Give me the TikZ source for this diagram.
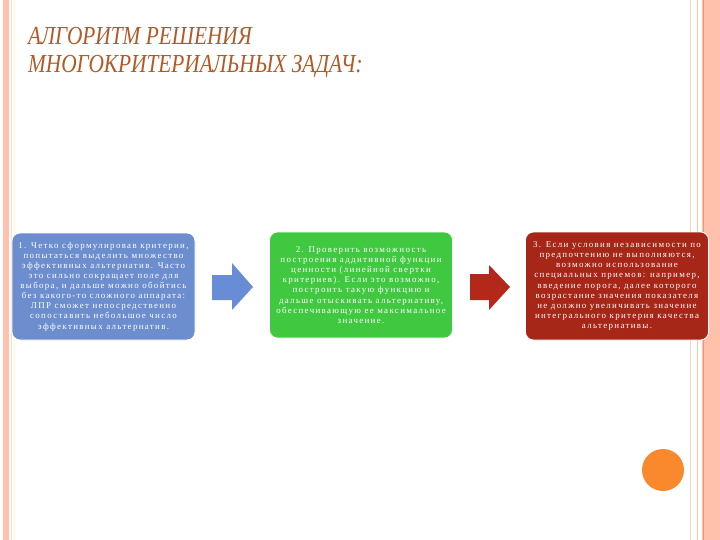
\documentclass[tikz,border=0pt]{standalone}
\usepackage{fontspec}
\setmainfont{Liberation Serif}
\newfontfamily\boxfont[LetterSpace=15]{Liberation Serif}
\usepackage{tikz}
\usetikzlibrary{positioning}

\definecolor{stripe}{RGB}{255,192,172}
\definecolor{stripedark}{RGB}{238,150,120}
\definecolor{titlecol}{RGB}{180,88,36}
\definecolor{boxblue}{RGB}{108,142,207}
\definecolor{boxgreen}{RGB}{64,200,64}
\definecolor{boxred}{RGB}{166,38,24}
\definecolor{arrblue}{RGB}{104,140,214}
\definecolor{arrred}{RGB}{180,40,25}
\definecolor{dotorange}{RGB}{250,136,45}

\tikzset{
  stepbox/.style={rounded corners=8pt, draw=white, line width=0.8pt,
    minimum width=183pt, minimum height=107pt, inner sep=2pt,
    align=center, text=white, font=\boxfont\fontsize{8.9}{10.1}\selectfont},
  titletext/.style={font=\itshape\fontsize{26}{28}\selectfont, text=titlecol,
    inner sep=0pt, xscale=0.82}
}

\begin{document}
\begin{tikzpicture}[x=1pt, y=-1pt]
  \useasboundingbox (0,0) rectangle (720,540);
  % stripes at the edges
  \fill[stripe] (3,0) rectangle (9,540);
  \draw[red!15, line width=0.8pt] (11.5,0) -- (11.5,540);
  \draw[yellow!20, line width=0.8pt] (14,0) -- (14,540);
  \draw[brown!30, line width=0.8pt] (690,0) -- (690,540);
  \draw[stripe, line width=1pt] (697,0) -- (697,540);
  \fill[stripe] (702,0) rectangle (720,540);
  \draw[stripedark, line width=1pt] (703,0) -- (703,540);

  % title
  \node[titletext, anchor=base west] (title1) at (28,45) {АЛГОРИТМ РЕШЕНИЯ};
  \node[titletext, anchor=base west] (title2) at (28,73) {МНОГОКРИТЕРИАЛЬНЫХ ЗАДАЧ:};

  % the three steps
  \node[stepbox, fill=boxblue] (first) at (103.5,286.5) {1. Четко сформулировав критерии,\\
    попытаться выделить множество\\
    эффективных альтернатив. Часто\\
    это сильно сокращает поле для\\
    выбора, и дальше можно обойтись\\
    без какого-то сложного аппарата:\\
    ЛПР сможет непосредственно\\
    сопоставить небольшое число\\
    эффективных альтернатив.};
  \node[stepbox, fill=boxgreen, minimum height=106pt] (second) at (361,285) {2. Проверить возможность\\
    построения аддитивной функции\\
    ценности (линейной свертки\\
    критериев). Если это возможно,\\
    построить такую функцию и\\
    дальше отыскивать альтернативу,\\
    обеспечивающую ее максимальное\\
    значение.};
  \node[stepbox, fill=boxred, minimum height=108pt] (third) at (617,286) {3. Если условия независимости по\\
    предпочтению не выполняются,\\
    возможно использование\\
    специальных приемов: например,\\
    введение порога, далее которого\\
    возрастание значения показателя\\
    не должно увеличивать значение\\
    интегрального критерия качества\\
    альтернативы.};

  % block arrows
  \fill[arrblue] (212,275) -- (232,275) -- (232,263) -- (253,287) -- (232,310) -- (232,300) -- (212,300) -- cycle;
  \fill[arrred] (470,274) -- (489,274) -- (489,265) -- (510,287) -- (489,310) -- (489,300) -- (470,300) -- cycle;

  % orange dot
  \fill[dotorange] (663,470) circle (21);
\end{tikzpicture}
\end{document}
